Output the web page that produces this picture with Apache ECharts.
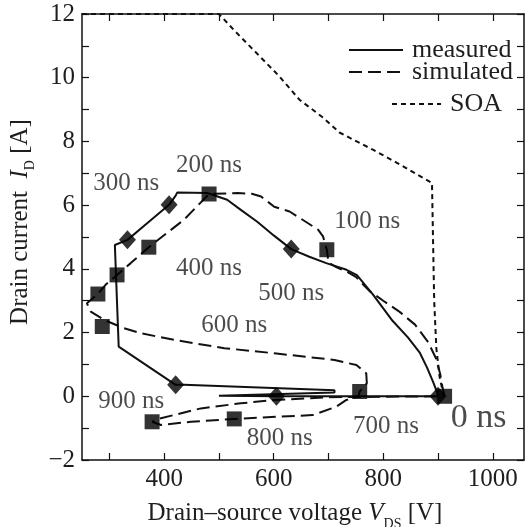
<!DOCTYPE html>
<html>
<head>
<meta charset="utf-8">
<script src="https://cdn.jsdelivr.net/npm/echarts@6/dist/echarts.min.js"></script>
<style>
  html, body { margin: 0; background: #fff; }
  #main { width: 528px; height: 527px; }
</style>
</head>
<body>
<div id="main"></div>
<script>
  // data (V in volts, I in amps)
  var measuredV = [900, 898, 891, 880, 867, 845, 817, 781, 752, 733, 696, 665, 632, 600, 570, 540, 515, 479, 424, 421, 409, 370, 333, 310, 310, 317, 421, 436, 711, 711, 500, 605, 900];
  var measuredI = [0, 0.14, 0.45, 0.9, 1.36, 1.85, 2.37, 3.2, 3.8, 3.97, 4.18, 4.38, 4.62, 5.05, 5.48, 5.85, 6.17, 6.38, 6.40, 6.30, 6.01, 5.45, 4.91, 4.75, 4.72, 1.56, 0.36, 0.36, 0.19, 0.12, 0.02, 0, 0];

  var simulatedV = [912, 908, 904, 896, 882, 858, 830, 800, 775, 750, 735, 715, 700, 697, 690, 681, 662, 629, 601, 577, 560, 534, 482, 436, 372, 339, 314, 293, 279, 259, 266, 290, 326, 357, 418, 510, 601, 711, 751, 769, 770, 757, 755, 732, 714, 671, 610, 528, 449, 394, 378, 394, 467, 540, 601, 700, 900];
  var simulatedI = [0, 0.3, 0.7, 1.2, 1.7, 2.25, 2.65, 3.0, 3.3, 3.75, 3.9, 4.05, 4.2, 4.6, 5.02, 5.23, 5.44, 5.8, 5.95, 6.27, 6.36, 6.38, 6.35, 5.54, 4.68, 4.18, 3.81, 3.5, 3.21, 2.92, 2.66, 2.4, 2.14, 1.98, 1.77, 1.51, 1.35, 1.14, 0.98, 0.72, 0.41, 0.15, 0, -0.12, -0.33, -0.59, -0.64, -0.71, -0.8, -0.9, -0.8, -0.69, -0.38, -0.22, -0.12, -0.03, 0];

  var soaV = [250, 500, 530, 570, 610, 647, 690, 720, 781, 825, 872, 889, 893, 897, 903, 908, 910];
  var soaI = [12, 12, 11.45, 10.75, 10.05, 9.31, 8.75, 8.28, 7.74, 7.33, 6.86, 6.70, 3.0, 1.5, 0.6, 0.2, 0];

  // time markers every 100 ns
  var measMarkV = [900, 632, 409, 333, 421, 605];
  var measMarkI = [0, 4.62, 6.01, 4.91, 0.36, 0];
  var simMarkV = [912, 697, 482, 372, 314, 279, 287, 757, 528, 378];
  var simMarkI = [0, 4.6, 6.35, 4.68, 3.81, 3.21, 2.19, 0.15, -0.71, -0.80];

  var noteText = ['0 ns', '100 ns', '200 ns', '300 ns', '400 ns', '500 ns', '600 ns', '700 ns', '800 ns', '900 ns'];
  var noteV = [974, 771, 482, 331, 482, 632, 528, 805, 611, 340];
  var noteI = [-0.69, 5.5, 7.25, 6.67, 4.02, 3.23, 2.22, -0.95, -1.32, -0.16];

  var xTicks = [300, 400, 500, 600, 700, 800, 900, 1000];
  var xLabels = [400, 600, 800, 1000];
  var yLabels = [-2, 0, 2, 4, 6, 8, 10, 12];

  function zip(a, b) {
    return a.map(function (v, i) { return [v, b[i]]; });
  }

  var serif = "'Times New Roman', Times, 'Liberation Serif', Tinos, serif";
  var ink = '#111';
  var txt = '#1e1e1e';

  var myChart = echarts.init(document.getElementById('main'));

  var notes = noteText.map(function (t, i) {
    return {
      value: [noteV[i], noteI[i]],
      name: t,
      label: t === '0 ns' ? { fontSize: 34 } : {}
    };
  });

  function legendAt(name, left, top, w) {
    return {
      data: [name],
      left: left,
      top: top,
      itemWidth: w,
      itemHeight: 14,
      itemGap: 0,
      selectedMode: false,
      itemStyle: { opacity: 0 },
      textStyle: { fontFamily: serif, fontSize: 26, color: txt, padding: [0, 0, 0, 4] }
    };
  }

  var frameLine = { onZero: false, lineStyle: { color: ink, width: 1.5 } };
  var frameTick = { inside: true, length: 7, lineStyle: { color: ink, width: 1.2 } };

  var option = {
    animation: false,
    backgroundColor: '#fff',
    textStyle: { fontFamily: serif },
    grid: { left: 82, right: 4, top: 14, bottom: 67, outerBoundsMode: 'none', containLabel: false },
    legend: [
      legendAt('measured', 343, 32, 54),
      legendAt('simulated', 343, 54, 54),
      legendAt('SOA', 386, 86, 49)
    ],
    xAxis: [
      {
        type: 'value', min: 250, max: 1057,
        name: 'Drain–source voltage {i|V}{sub|DS} [V]',
        nameLocation: 'middle', nameGap: 35,
        nameTextStyle: {
          fontFamily: serif, fontSize: 25, color: txt, padding: [0, 16, 0, 0],
          rich: {
            i: { fontFamily: serif, fontStyle: 'italic', fontSize: 25, color: txt },
            sub: { fontFamily: serif, fontSize: 14, color: txt, padding: [22, 0, 0, 0] }
          }
        },
        axisLine: frameLine,
        axisTick: Object.assign({ customValues: xTicks }, frameTick),
        axisLabel: {
          customValues: xLabels, fontFamily: serif, fontSize: 25, color: txt, margin: 7,
          formatter: function (v) { return String(v); }
        },
        splitLine: { show: false }
      },
      {
        type: 'value', min: 250, max: 1057, position: 'top',
        axisLine: frameLine,
        axisTick: Object.assign({ customValues: xTicks }, frameTick),
        axisLabel: { show: false },
        splitLine: { show: false }
      }
    ],
    yAxis: [
      {
        type: 'value', min: -2, max: 12, interval: 1,
        name: 'Drain current  {i|I}{sub|D} [A]',
        nameLocation: 'middle', nameGap: 40,
        nameTextStyle: {
          fontFamily: serif, fontSize: 25, color: txt, padding: [0, 0, 0, 30],
          rich: {
            i: { fontFamily: serif, fontStyle: 'italic', fontSize: 25, color: txt },
            sub: { fontFamily: serif, fontSize: 14, color: txt, padding: [20, 0, 0, 0] }
          }
        },
        axisLine: frameLine,
        axisTick: frameTick,
        axisLabel: {
          customValues: yLabels, fontFamily: serif, fontSize: 25, color: txt, margin: 7,
          formatter: function (v) { return String(v).replace('-', '−'); }
        },
        splitLine: { show: false }
      },
      {
        type: 'value', min: -2, max: 12, interval: 1, position: 'right',
        axisLine: frameLine,
        axisTick: frameTick,
        axisLabel: { show: false },
        splitLine: { show: false }
      }
    ],
    series: [
      {
        name: 'SOA', type: 'line', symbol: 'none', data: zip(soaV, soaI),
        lineStyle: { color: ink, width: 2, type: [5, 4] }, itemStyle: { color: ink }
      },
      {
        name: 'simulated', type: 'line', symbol: 'none', data: zip(simulatedV, simulatedI),
        lineStyle: { color: ink, width: 2, type: [13, 6] }, itemStyle: { color: ink }
      },
      {
        name: 'measured', type: 'line', symbol: 'none', data: zip(measuredV, measuredI),
        lineStyle: { color: ink, width: 2 }, itemStyle: { color: ink }
      },
      {
        name: 'simMarks', type: 'scatter', symbol: 'rect', symbolSize: 15,
        data: zip(simMarkV, simMarkI), itemStyle: { color: '#000' }, z: 5
      },
      {
        name: 'measMarks', type: 'scatter', symbol: 'diamond', symbolSize: [17, 19],
        data: zip(measMarkV, measMarkI), itemStyle: { color: '#000' }, z: 5
      },
      {
        name: 'notes', type: 'scatter', symbolSize: 0, data: notes, z: 6,
        label: {
          show: true, position: 'inside', formatter: '{b}',
          fontFamily: serif, fontSize: 25, color: txt
        }
      }
    ]
  };

  myChart.setOption(option);
</script>
</body>
</html>
